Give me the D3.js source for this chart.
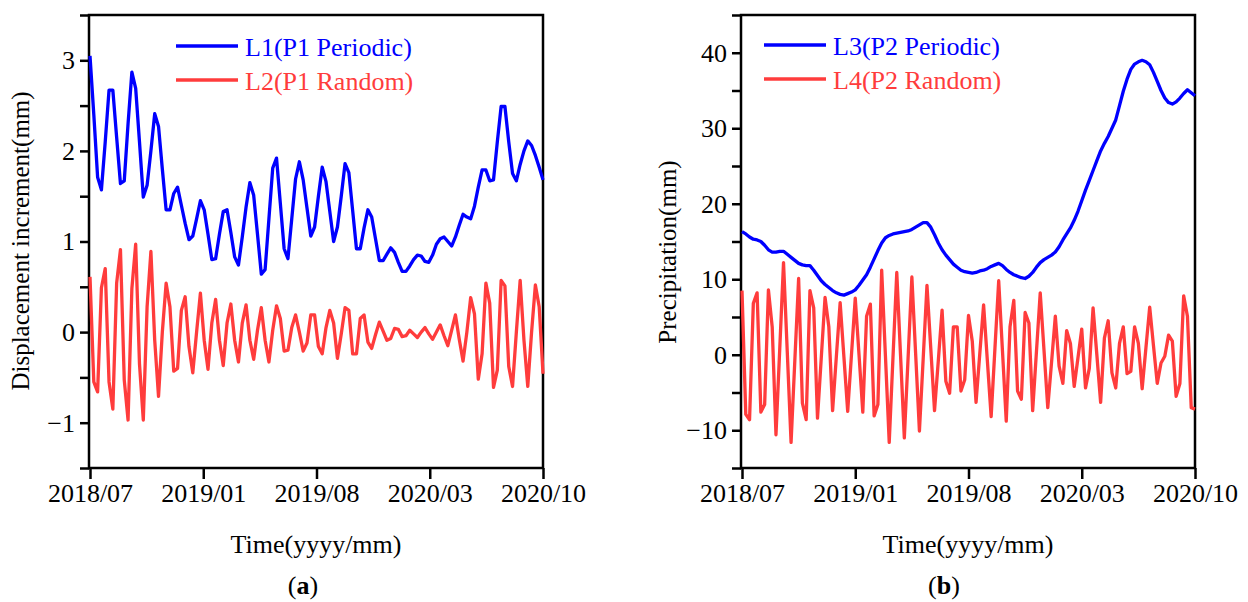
<!DOCTYPE html>
<html>
<head>
<meta charset="utf-8">
<script src="https://cdn.jsdelivr.net/npm/d3@7"></script>
<style>
  body { margin: 0; background: #fff; }
  svg text { font-family: "Liberation Serif", "Times New Roman", serif; }
</style>
</head>
<body>
<div id="canvas"></div>
<script>
// tick labels shared by both panels
var timeLabels = ['2018/07', '2019/01', '2019/08', '2020/03', '2020/10'];

// panel (a): displacement increment, mm
var periodicP1 = [3.05, 2.4, 1.71, 1.57, 2.1, 2.67, 2.67, 2.15, 1.64, 1.67,
  2.3, 2.87, 2.69, 2.1, 1.49, 1.62, 2.0, 2.41, 2.27, 1.8,
  1.35, 1.35, 1.53, 1.6, 1.4, 1.2, 1.02, 1.06, 1.25, 1.45,
  1.35, 1.08, 0.8, 0.81, 1.08, 1.33, 1.35, 1.1, 0.83, 0.74,
  1.05, 1.38, 1.65, 1.51, 1.08, 0.64, 0.69, 1.25, 1.81, 1.92,
  1.42, 0.92, 0.81, 1.25, 1.69, 1.88, 1.68, 1.37, 1.06, 1.16,
  1.5, 1.82, 1.66, 1.33, 1.0, 1.16, 1.5, 1.86, 1.76, 1.34,
  0.92, 0.92, 1.15, 1.35, 1.27, 1.03, 0.79, 0.79, 0.86, 0.93,
  0.88, 0.77, 0.67, 0.67, 0.73, 0.8, 0.85, 0.84, 0.78, 0.77,
  0.85, 0.97, 1.03, 1.05, 1.0, 0.95, 1.05, 1.18, 1.3, 1.27,
  1.25, 1.39, 1.6, 1.79, 1.79, 1.67, 1.68, 2.1, 2.49, 2.49,
  2.1, 1.75, 1.67, 1.85, 2.0, 2.11, 2.06, 1.95, 1.82, 1.68];

var randomP1 = [0.61, -0.55, -0.66, 0.49, 0.7, -0.55, -0.85, 0.54, 0.91, -0.53,
  -0.97, 0.48, 0.97, -0.35, -0.97, 0.28, 0.89, -0.09, -0.71, 0.0,
  0.54, 0.28, -0.43, -0.4, 0.24, 0.39, -0.16, -0.45, 0.0, 0.43,
  -0.09, -0.41, 0.1, 0.36, -0.09, -0.37, 0.1, 0.31, -0.09, -0.33,
  0.1, 0.3, -0.09, -0.3, 0.02, 0.27, -0.09, -0.33, 0.02, 0.29,
  0.15, -0.21, -0.2, 0.05, 0.19, 0.0, -0.21, -0.12, 0.19, 0.19,
  -0.16, -0.24, 0.05, 0.24, 0.1, -0.29, -0.02, 0.27, 0.24, -0.24,
  -0.24, 0.15, 0.19, -0.11, -0.18, -0.03, 0.11, 0.01, -0.09, -0.07,
  0.04, 0.03, -0.05, -0.04, 0.02, -0.02, -0.06, 0.0, 0.05, -0.02,
  -0.08, 0.0, 0.08, -0.04, -0.15, 0.02, 0.19, -0.08, -0.32, 0.0,
  0.38, 0.2, -0.52, -0.24, 0.54, 0.32, -0.61, -0.42, 0.57, 0.51,
  -0.38, -0.6, 0.0, 0.57, -0.09, -0.6, 0.0, 0.52, 0.28, -0.46];

// panel (b): precipitation, mm
var periodicP2 = [16.3, 16.0, 15.6, 15.3, 15.2, 15.0, 14.5, 13.9, 13.6, 13.6,
  13.7, 13.7, 13.3, 12.9, 12.5, 12.1, 11.9, 11.8, 11.8, 11.2,
  10.5, 9.8, 9.3, 8.9, 8.5, 8.2, 8.0, 7.9, 8.1, 8.3,
  8.6, 9.2, 9.9, 10.6, 11.6, 12.7, 13.8, 14.8, 15.5, 15.8,
  16.0, 16.1, 16.2, 16.3, 16.4, 16.6, 16.9, 17.2, 17.5, 17.5,
  16.9, 15.9, 14.8, 13.9, 13.2, 12.6, 12.0, 11.6, 11.2, 11.0,
  10.9, 10.8, 10.9, 11.1, 11.2, 11.4, 11.7, 11.9, 12.1, 11.8,
  11.3, 10.9, 10.6, 10.4, 10.2, 10.1, 10.4, 10.9, 11.6, 12.2,
  12.6, 12.9, 13.2, 13.6, 14.3, 15.2, 16.0, 16.8, 17.8, 19.0,
  20.4, 21.8, 23.1, 24.4, 25.7, 27.0, 28.0, 28.9, 30.0, 31.1,
  33.0, 34.9, 36.5, 37.8, 38.5, 38.8, 39.0, 38.8, 38.4, 37.4,
  36.2, 35.0, 34.0, 33.4, 33.2, 33.5, 34.0, 34.6, 35.1, 34.7, 34.3];

var randomP2 = [8.5, -7.9, -8.6, 6.8, 8.2, -7.6, -6.6, 8.6, 3.7, -10.6,
  0.8, 12.2, 0.3, -11.6, -0.7, 10.1, -6.4, -8.6, 8.5, 6.2,
  -8.4, -0.4, 7.6, 3.7, -7.4, -0.2, 6.9, -0.3, -7.5, 0.0,
  7.5, 0.0, -7.6, 5.1, 6.7, -8.1, -6.6, 11.2, -0.2, -11.6,
  -0.3, 10.9, -0.1, -11.0, -0.4, 10.3, 0.1, -10.1, -0.5, 9.2,
  0.9, -7.4, -0.8, 5.9, -3.5, -5.1, 3.7, 3.7, -4.8, -3.3,
  5.2, 1.8, -6.3, 0.2, 6.6, -0.8, -8.2, 0.8, 9.8, 0.5,
  -8.8, 3.7, 7.2, -4.8, -5.9, 5.6, 4.2, -7.4, 0.4, 8.2,
  0.6, -7.0, -1.0, 5.1, -1.5, -3.8, 3.2, 1.5, -4.2, -0.4,
  3.4, -4.4, -1.8, 6.2, 0.0, -6.3, 2.2, 4.5, -2.4, -4.4,
  1.5, 3.7, -2.5, -2.2, 3.7, 1.5, -4.5, 0.9, 6.3, 1.2,
  -3.8, -1.1, -0.2, 2.6, 1.8, -5.5, -3.8, 7.8, 5.1, -7.0, -7.2];

var yTicksA = d3.range(-1.5, 3.51, 0.5);
var yTicksB = d3.range(-15, 45.1, 5);

var W = 1248, H = 602;
var blue = '#0000ff', red = '#ff3c3c';

var svg = d3.select('#canvas').append('svg')
  .attr('width', W).attr('height', H)
  .style('background', '#fff');

function panel(o) {
  var x = d3.scaleLinear().domain([0, o.lines[0].values.length - 1]).range([o.l + 1, o.r]);
  var y = d3.scaleLinear().domain(o.yDomain).range([o.b, o.t]);
  var g = svg.append('g');

  // x axis, ticks spread evenly over the time span
  var n = o.lines[0].values.length - 1;
  var xAxis = d3.axisBottom(x)
    .tickValues(timeLabels.map(function(d, i) { return n * i / (timeLabels.length - 1); }))
    .tickFormat(function(d, i) { return timeLabels[i]; })
    .tickSize(11).tickSizeOuter(0).tickPadding(5);
  var gx = g.append('g').attr('transform', 'translate(0,' + o.b + ')').call(xAxis);
  gx.select('.domain').remove();
  gx.selectAll('line').attr('stroke', '#000').attr('stroke-width', 2.5);
  gx.selectAll('text').attr('fill', '#000').style('font-size', '26px');

  var yAxis = d3.axisLeft(y)
    .tickValues(o.yTicks)
    .tickFormat(function(d) { return o.labelIf(d) ? d3.format('')(d) : ''; })
    .tickSize(9).tickSizeOuter(0).tickPadding(5);
  var gy = g.append('g').attr('transform', 'translate(' + o.l + ',0)').call(yAxis);
  gy.select('.domain').remove();
  gy.selectAll('line').attr('stroke', '#000').attr('stroke-width', 2.5);
  gy.selectAll('text').attr('fill', '#000').style('font-size', '26px');

  // frame
  g.append('rect')
    .attr('x', o.l).attr('y', o.t)
    .attr('width', o.r - o.l).attr('height', o.b - o.t)
    .attr('fill', 'none').attr('stroke', '#000').attr('stroke-width', 2.5);

  var line = d3.line()
    .x(function(d, i) { return x(i); })
    .y(function(d) { return y(d); });

  o.lines.forEach(function(s) {
    g.append('path').datum(s.values)
      .attr('d', line)
      .attr('fill', 'none')
      .attr('stroke', s.color)
      .attr('stroke-width', 3.3)
      .attr('stroke-linejoin', 'round');
  });

  // legend
  o.lines.forEach(function(s, i) {
    var ly = o.legY + i * 34;
    g.append('line')
      .attr('x1', o.legX).attr('x2', o.legX + 62)
      .attr('y1', ly).attr('y2', ly)
      .attr('stroke', s.color).attr('stroke-width', 3.3);
    g.append('text')
      .attr('x', o.legX + 69).attr('y', ly + 10)
      .attr('fill', s.color)
      .style('font-size', '26px')
      .text(s.name);
  });

  // titles
  g.append('text')
    .attr('x', (o.l + o.r) / 2).attr('y', 553)
    .attr('text-anchor', 'middle')
    .style('font-size', '26px')
    .text('Time(yyyy/mm)');

  g.append('text')
    .attr('transform', 'translate(' + o.yTitleX + ',' + o.yTitleY + ') rotate(-90)')
    .attr('text-anchor', 'middle')
    .style('font-size', '25px')
    .text(o.yTitle);

  var cap = g.append('text')
    .attr('x', o.capX).attr('y', 594)
    .attr('text-anchor', 'middle')
    .style('font-size', '26px');
  cap.append('tspan').text('(');
  cap.append('tspan').style('font-weight', 'bold').text(o.cap);
  cap.append('tspan').text(')');
}

panel({
  l: 89, r: 543, t: 15, b: 468,
  yDomain: [-1.5, 3.5], yTicks: yTicksA,
  labelIf: function(d) { return Math.abs(d - Math.round(d)) < 1e-6; },
  lines: [
    {name: 'L1(P1 Periodic)', values: periodicP1, color: blue},
    {name: 'L2(P1 Random)', values: randomP1, color: red}
  ],
  legX: 176, legY: 46,
  yTitle: 'Displacement increment(mm)', yTitleX: 29, yTitleY: 241,
  cap: 'a', capX: 303
});

panel({
  l: 741, r: 1195, t: 15, b: 468,
  yDomain: [-15, 45], yTicks: yTicksB,
  labelIf: function(d) { return d % 10 === 0 && d > -15 && d < 45; },
  lines: [
    {name: 'L3(P2 Periodic)', values: periodicP2, color: blue},
    {name: 'L4(P2 Random)', values: randomP2, color: red}
  ],
  legX: 764, legY: 45,
  yTitle: 'Precipitation(mm)', yTitleX: 676, yTitleY: 252,
  cap: 'b', capX: 944
});
</script>
</body>
</html>
